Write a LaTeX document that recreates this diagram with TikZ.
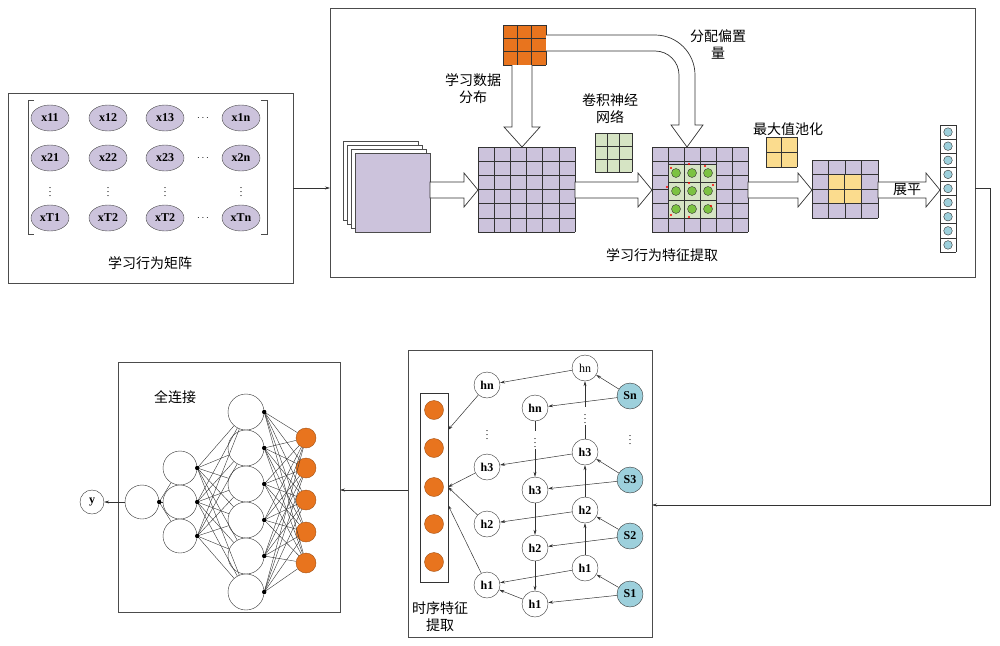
\documentclass[tikz,border=0pt]{standalone}
\usepackage{fontspec}
\setmainfont{Liberation Serif}
\newfontfamily\cjk{Noto Sans CJK SC}
\usetikzlibrary{shapes.geometric,arrows.meta}
\definecolor{lav}{HTML}{CCC3DC}
\definecolor{org}{HTML}{E8741E}
\definecolor{grn}{HTML}{D6E4C4}
\definecolor{yel}{HTML}{FBDC8E}
\definecolor{cyn}{HTML}{9DD0DC}
\definecolor{gc}{HTML}{7CC242}
\tikzset{
 box/.style={draw=black!70,line width=0.8pt},
 el/.style={ellipse,draw=black!70,fill=lav,minimum width=38pt,minimum height=26pt,inner sep=0pt,font=\bfseries\fontsize{12}{12}\selectfont},
 hn/.style={circle,draw=black!80,fill=white,minimum size=26pt,inner sep=0pt,font=\bfseries\fontsize{12}{12}\selectfont},
 sn/.style={hn,fill=cyn},
 nn/.style={circle,draw=black!80,fill=white,inner sep=0pt},
 on/.style={circle,draw=org!70!black,fill=org,minimum size=20pt,inner sep=0pt},
 lab/.style={font=\cjk\fontsize{14}{17}\selectfont,align=center},
 arr/.style={-{Stealth[length=5pt,width=3pt]},black!80,line width=0.5pt},
 hol/.style={draw=black!80,fill=white,line width=0.7pt},
}
\newcommand{\mygrid}[7]{% x0 y0 x1 y1 ncols nrows fill
 \fill[#7] (#1,#2) rectangle (#3,#4);
 \foreach \i in {0,...,#5}{\draw[black!80,line width=0.6pt] ({#1+(#3-#1)*\i/#5},#2) -- ({#1+(#3-#1)*\i/#5},#4);}
 \foreach \j in {0,...,#6}{\draw[black!80,line width=0.6pt] (#1,{#2+(#4-#2)*\j/#6}) -- (#3,{#2+(#4-#2)*\j/#6});}
}
\newcommand{\harr}[3]{% x1 x2 yc
 \draw[hol] (#1,#3-8) -- (#2-14,#3-8) -- (#2-14,#3-17) -- (#2,#3) -- (#2-14,#3+17) -- (#2-14,#3+8) -- (#1,#3+8) -- cycle;}
\begin{document}
\begin{tikzpicture}[x=1pt,y=-1pt]
\useasboundingbox (0,0) rectangle (1000,645);
% ---- matrix box
\draw[box] (8,93) rectangle (293,283);
\draw[black!70,line width=0.7pt] (34,100) -- (28,100) -- (28,234) -- (34,234);
\draw[black!70,line width=0.7pt] (261,100) -- (267,100) -- (267,234) -- (261,234);
\foreach \c/\x in {1/50,2/108,3/165,n/241}{
 \node[el] (m1\c) at (\x,118) {x1\c};
 \node[el] (m2\c) at (\x,158) {x2\c};}
\node[el] (mT1) at (50,218) {xT1};
\node[el] (mT2) at (108,218) {xT2};
\node[el] (mT3) at (165,218) {xT2};
\node[el] (mTn) at (241,218) {xTn};
\foreach \x in {203}{\node at (\x,118) {$\cdots$};\node at (\x,158) {$\cdots$};\node at (\x,218) {$\cdots$};}
\foreach \x in {50,108,165,241}{\node[inner sep=0pt] at (\x,189) {$\vdots$};}
\node[lab] (lm) at (150,263) {学习行为矩阵};
% ---- CNN box
\draw[box] (330,8) rectangle (975,277);
\coordinate (cin) at (330,188);
\draw[arr] (293,188) -- (cin);
\foreach \d in {3,2,1}{\draw[black!70,fill=white] (355-4*\d,153-4*\d) rectangle (430-4*\d,232-4*\d);}
\draw[black!70,fill=lav] (355,153) rectangle (430,232);
\mygrid{478}{147}{575}{232}{6}{6}{lav}
\harr{430}{478}{190}
\mygrid{503}{25}{546}{65}{3}{3}{org}
\draw[hol] (512,65) -- (512,127) -- (504,127) -- (522,147) -- (540,127) -- (532,127) -- (532,65);
\draw[hol] (546,35) -- (655,35) arc (270:360:40) -- (695,125) -- (703,125) -- (687,147) -- (671,125) -- (679,125) -- (679,75) arc (0:-90:24) -- (546,51);
\node[lab] (t1) at (473,89) {学习数据\\分布};
\node[lab] (t2) at (718,44) {分配偏置\\量};
\node[lab] (t3) at (610,109) {卷积神经\\网络};
\mygrid{595}{133}{632}{172}{3}{3}{grn}
\mygrid{652}{147}{748}{232}{6}{6}{lav}
\mygrid{668}{164}{716}{218}{3}{3}{grn}
\foreach \i in {0,1,2}{\foreach \j in {0,1,2}{
 \draw[black!80,fill=gc] ({676+16*\i},{173+18*\j}) circle (4.5);}}
\foreach \p in {(671,168),(689,164),(705,166),(667,187),(689,183),(713,185),(671,215),(689,217),(711,206)}{\fill[red] \p circle (1.2);}
\harr{575}{652}{190}
\node[lab] (t4) at (788,129) {最大值池化};
\mygrid{766}{137}{797}{167}{2}{2}{yel}
\mygrid{812}{160}{878}{218}{4}{4}{lav}
\mygrid{828}{174.5}{861}{203.5}{2}{2}{yel}
\harr{748}{812}{190}
\harr{878}{940}{190}
\node[lab] (t5) at (907,190) {展平};
\mygrid{940}{125}{956}{252}{1}{9}{white}
\foreach \k in {0,...,8}{\draw[black!80,fill=cyn] (948,{125+127/9*(\k+0.5)}) circle (4.3);}
\node[lab] (t6) at (662,255) {学习行为特征提取};
% connector to RNN
\coordinate (cout) at (975,188);
\coordinate (rin) at (652,505);
\draw[arr] (cout) -- (990,188) -- (990,505) -- (rin);
% ---- RNN box
\draw[box] (408,350) rectangle (652,637);
\draw[black!80,line width=0.7pt] (420,393) rectangle (448,582);
\foreach \k/\y in {1/410,2/448,3/487,4/524,5/562}{\node[on,minimum size=19pt] (o\k) at (434,\y) {};}
\node[hn] (Ln) at (487,385) {hn};
\node[hn] (L3) at (487,467) {h3};
\node[hn] (L2) at (487,524) {h2};
\node[hn] (L1) at (487,585) {h1};
\node[hn] (Mn) at (535,408) {hn};
\node[hn] (M3) at (535,490) {h3};
\node[hn] (M2) at (535,548) {h2};
\node[hn] (M1) at (535,604) {h1};
\node[hn,font=\fontsize{12}{12}\selectfont] (Rn) at (585,368) {hn};
\node[hn] (R3) at (585,452) {h3};
\node[hn] (R2) at (585,510) {h2};
\node[hn] (R1) at (585,568) {h1};
\node[sn] (Sn) at (630,396) {Sn};
\node[sn] (S3) at (630,480) {S3};
\node[sn] (S2) at (630,536) {S2};
\node[sn] (S1) at (630,594) {S1};
\node[inner sep=0pt] (dL) at (487,432) {$\vdots$};
\node[inner sep=1pt] (dM) at (535,440) {$\vdots$};
\node[inner sep=1pt] (dR) at (585,416) {$\vdots$};
\node[inner sep=0pt] at (630,437) {$\vdots$};
\foreach \k in {n,3,2,1}{\draw[arr] (S\k) -- (R\k); \draw[arr] (S\k) -- (M\k); \draw[arr] (R\k) -- (L\k);}
\draw[arr] (R1) -- (R2); \draw[arr] (R2) -- (R3); \draw[black!80,line width=0.5pt] (R3) -- (dR); \draw[arr] (dR) -- (Rn);
\draw[black!80,line width=0.5pt] (Mn) -- (dM); \draw[arr] (dM) -- (M3); \draw[arr] (M3) -- (M2); \draw[arr] (M2) -- (M1);
\draw[arr] (M1) -- (L1);
\draw[arr] (Ln) -- (448,430);
\draw[arr] (L3) -- (448,487);
\draw[arr] (L2) -- (448,487);
\draw[arr] (L1) -- (448,505);
\node[lab] (t7) at (440,617) {时序特征\\提取};
% arrow to FC
\coordinate (fcin) at (340,490);
\draw[arr] (408,490) -- (fcin);
% ---- FC box
\draw[box] (118,362) rectangle (340,612);
\node[lab] (t8) at (175,397) {全连接};
\node[nn,minimum size=24pt,font=\bfseries\fontsize{12}{12}\selectfont] (y) at (92,502) {y};
\node[nn,minimum size=34pt] (a) at (142,502) {};
\foreach \k/\yy in {1/468,2/502,3/536}{\node[nn,minimum size=34pt] (b\k) at (180,\yy) {};}
\foreach \k/\yy in {1/412,2/448,3/484,4/520,5/556,6/592}{\node[nn,minimum size=36pt] (c\k) at (246,\yy) {};}
\foreach \k/\yy in {1/438,2/468,3/500,4/532,5/563}{\node[on] (d\k) at (306,\yy) {};}
\draw[arr] (a) -- (y);
\foreach \k in {1,2,3}{\draw[black!80,line width=0.4pt] (a.east) -- (b\k);}
\foreach \k in {1,2,3}{\foreach \m in {1,...,6}{\draw[black!80,line width=0.4pt] (b\k.east) -- (c\m);}}
\foreach \m in {1,...,6}{\foreach \n in {1,...,5}{\draw[black!80,line width=0.4pt] (c\m.east) -- (d\n);}}
\fill (a.east) circle (2.2);
\foreach \k in {1,2,3}{\fill (b\k.east) circle (2.2);}
\foreach \m in {1,...,6}{\fill (c\m.east) circle (2.2);}
\end{tikzpicture}
\end{document}
